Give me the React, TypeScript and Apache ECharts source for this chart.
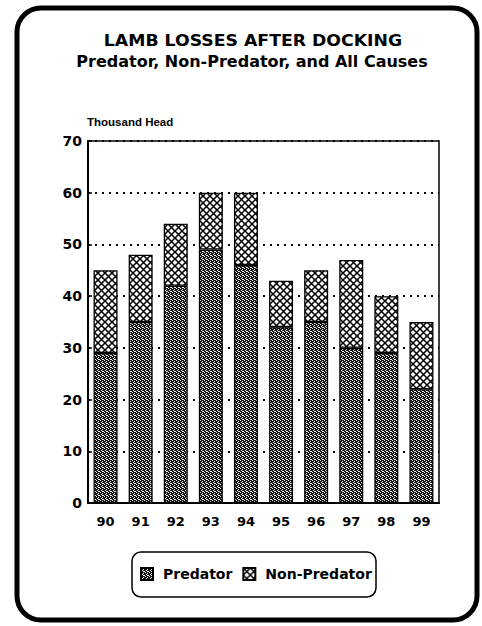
import React, { useEffect, useRef } from "react";
import * as echarts from "echarts";

const years = ["90", "91", "92", "93", "94", "95", "96", "97", "98", "99"];
const predator = [29, 35, 42, 49, 46, 34, 35, 30, 29, 22];
const nonPredator = [16, 13, 12, 11, 14, 9, 10, 17, 11, 13];
const titleLines = ["LAMB LOSSES AFTER DOCKING", "Predator, Non-Predator, and All Causes"];
const yUnit = "Thousand Head";

function makePredatorPattern(): HTMLCanvasElement {
  const c = document.createElement("canvas");
  c.width = 4;
  c.height = 4;
  const g = c.getContext("2d")!;
  g.fillStyle = "#151515";
  g.fillRect(0, 0, 4, 4);
  g.fillStyle = "#f0f0f0";
  const pts = [[0, 0], [2, 1], [1, 2], [3, 3], [2, 3]];
  pts.forEach(([x, y]) => g.fillRect(x, y, 1, 1));
  return c;
}

function makeCrossPattern(): HTMLCanvasElement {
  const s = 7;
  const c = document.createElement("canvas");
  c.width = s;
  c.height = s;
  const g = c.getContext("2d")!;
  g.fillStyle = "#ffffff";
  g.fillRect(0, 0, s, s);
  g.strokeStyle = "#000000";
  g.lineWidth = 1.5;
  g.beginPath();
  g.moveTo(-1, -1);
  g.lineTo(s + 1, s + 1);
  g.moveTo(s + 1, -1);
  g.lineTo(-1, s + 1);
  g.stroke();
  return c;
}

export default function App() {
  const ref = useRef<HTMLDivElement>(null);
  useEffect(() => {
    if (!ref.current) return;
    const chart = echarts.init(ref.current, undefined, { renderer: "svg", width: 482, height: 626 });
    const predFill: any = { image: makePredatorPattern(), repeat: "repeat" };
    const crossFill: any = { image: makeCrossPattern(), repeat: "repeat" };
    const font = "'Liberation Sans', Arial, sans-serif";
    const heavy = "'DejaVu Sans', 'Liberation Sans', sans-serif";
    chart.setOption({
      animation: false,
      backgroundColor: "#ffffff",
      textStyle: { fontFamily: heavy },
      grid: {
        left: 88,
        right: 43,
        top: 141,
        bottom: 123,
        show: true,
        borderColor: "#000",
        borderWidth: 1.5,
        backgroundColor: "transparent",
      },
      legend: {
        left: 140,
        top: 567,
        padding: 0,
        itemWidth: 12,
        itemHeight: 12,
        itemGap: 10,
        icon: "rect",
        textStyle: { fontFamily: heavy, fontWeight: "bold", fontSize: 14, color: "#000", padding: [0, 0, 0, 5] },
        data: ["Predator", "Non-Predator"],
      },
      xAxis: {
        type: "category",
        data: years,
        axisLine: { lineStyle: { color: "#000", width: 2 } },
        axisTick: { show: false },
        axisLabel: { color: "#000", fontWeight: "bold", fontSize: 13, margin: 12, fontFamily: heavy },
      },
      yAxis: {
        type: "value",
        min: 0,
        max: 70,
        interval: 10,
        axisLine: { show: true, lineStyle: { color: "#000", width: 2 } },
        axisTick: { show: true, inside: true, length: 4, lineStyle: { color: "#000", width: 1.5 } },
        axisLabel: { color: "#000", fontWeight: "bold", fontSize: 14, margin: 6, fontFamily: heavy },
        splitLine: { show: true, lineStyle: { color: "#000", width: 2, type: [2, 5] } },
      },
      series: [
        {
          name: "Predator",
          type: "bar",
          stack: "total",
          data: predator,
          barWidth: 24,
          itemStyle: { color: predFill, borderColor: "#000", borderWidth: 1.3 },
        },
        {
          name: "Non-Predator",
          type: "bar",
          stack: "total",
          data: nonPredator,
          barWidth: 24,
          itemStyle: { color: crossFill, borderColor: "#000", borderWidth: 1.3 },
        },
      ],
      graphic: [
        {
          type: "rect",
          shape: { x: 17, y: 8, width: 460, height: 612, r: 24 },
          style: { fill: "none", stroke: "#000", lineWidth: 5 },
          silent: true,
        },
        {
          type: "rect",
          shape: { x: 132, y: 552, width: 244, height: 45, r: 9 },
          style: { fill: "none", stroke: "#000", lineWidth: 1.5 },
          silent: true,
        },
        {
          type: "text",
          x: 253,
          y: 41,
          scaleX: 1.08,
          style: { text: titleLines[0], fontFamily: heavy, fontWeight: "bold", fontSize: 16, fill: "#000", align: "center", verticalAlign: "middle" },
        },
        {
          type: "text",
          x: 252,
          y: 61,
          style: { text: titleLines[1], fontFamily: heavy, fontWeight: "bold", fontSize: 16, fill: "#000", align: "center", verticalAlign: "middle" },
        },
        {
          type: "text",
          x: 87,
          y: 122,
          style: { text: yUnit, fontFamily: font, fontWeight: "bold", fontSize: 11.5, fill: "#000", align: "left", verticalAlign: "middle" },
        },
      ],
    });
    return () => chart.dispose();
  }, []);
  return <div ref={ref} style={{ position: "fixed", left: 0, top: 0, width: 482, height: 626 }} />;
}
